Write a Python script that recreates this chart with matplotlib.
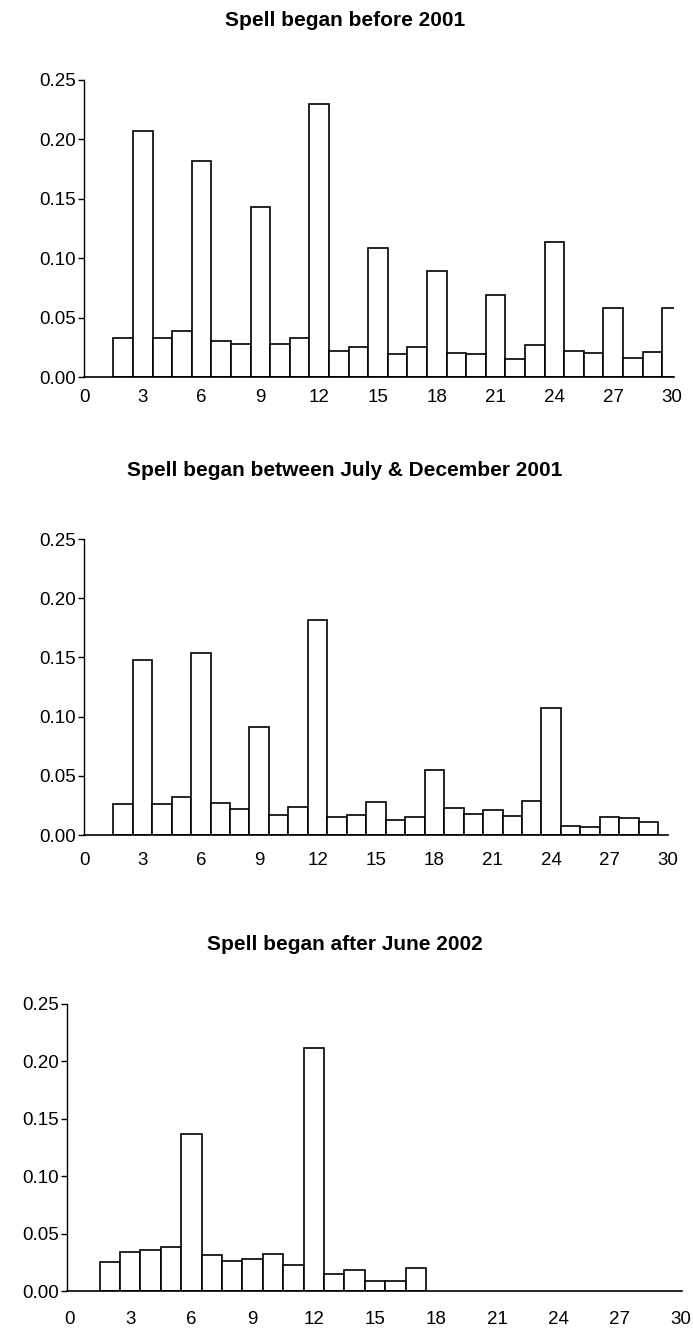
import numpy as np
import matplotlib.pyplot as plt

plt.rcParams['font.family'] = ['Liberation Sans', 'DejaVu Sans']

# share of spells ending at each month, per start period
months_before = list(range(2, 31))
share_before = [0.033, 0.207, 0.033, 0.039, 0.182, 0.030, 0.028, 0.143, 0.028, 0.033,
                0.230, 0.022, 0.025, 0.109, 0.019, 0.025, 0.089, 0.020, 0.019, 0.069,
                0.015, 0.027, 0.114, 0.022, 0.020, 0.058, 0.016, 0.021, 0.058]

months_mid = list(range(2, 30))
share_mid = [0.026, 0.148, 0.026, 0.032, 0.154, 0.027, 0.022, 0.091, 0.017, 0.024,
             0.182, 0.015, 0.017, 0.028, 0.013, 0.015, 0.055, 0.023, 0.018, 0.021,
             0.016, 0.029, 0.107, 0.008, 0.007, 0.015, 0.014, 0.011]

months_after = list(range(2, 18))
share_after = [0.025, 0.034, 0.036, 0.038, 0.137, 0.031, 0.026, 0.028, 0.032, 0.023,
               0.212, 0.015, 0.018, 0.009, 0.009, 0.020]

titles = ["Spell began before 2001",
          "Spell began between July & December 2001",
          "Spell began after June 2002"]
xtick_vals = list(range(0, 31, 3))
ytick_vals = [0.00, 0.05, 0.10, 0.15, 0.20, 0.25]

W, H = 693, 1332
fig = plt.figure(figsize=(W / 100, H / 100), dpi=100)

# axes boxes in pixels: left, top, right, bottom, plus xlim and label pad
panels = [
    (months_before, share_before, (84, 80, 674, 377), (0, 30.1), 8.5, 21),
    (months_mid, share_mid, (84, 539, 668, 835), (0, 30.0), 12.5, 470),
    (months_after, share_after, (67, 1004, 682, 1291), (-0.1, 30.05), 14.5, 944),
]

for (mx, vals, box, xl, xpad, ty), title in zip(panels, titles):
    l, t, r, b = box
    ax = fig.add_axes([l / W, 1 - b / H, (r - l) / W, (b - t) / H])
    ax.bar(mx, vals, width=1.0, color='white', edgecolor='black', linewidth=1.2)
    ax.set_xlim(*xl)
    ax.set_ylim(0, 0.25)
    ax.set_xticks(xtick_vals)
    ax.set_yticks(ytick_vals)
    ax.set_yticklabels([f"{v:.2f}" for v in ytick_vals])
    for s in ['top', 'right']:
        ax.spines[s].set_visible(False)
    ax.spines['left'].set_linewidth(1.0)
    ax.spines['bottom'].set_linewidth(1.2)
    ax.tick_params(axis='y', length=4, width=1.0, pad=1.5, labelsize=13.5)
    ax.tick_params(axis='x', length=0, pad=xpad, labelsize=13.5)
    fig.text(345 / W, 1 - ty / H, title, ha='center', va='center',
             fontsize=15, fontweight='bold')

fig.savefig("out.png", dpi=100)
